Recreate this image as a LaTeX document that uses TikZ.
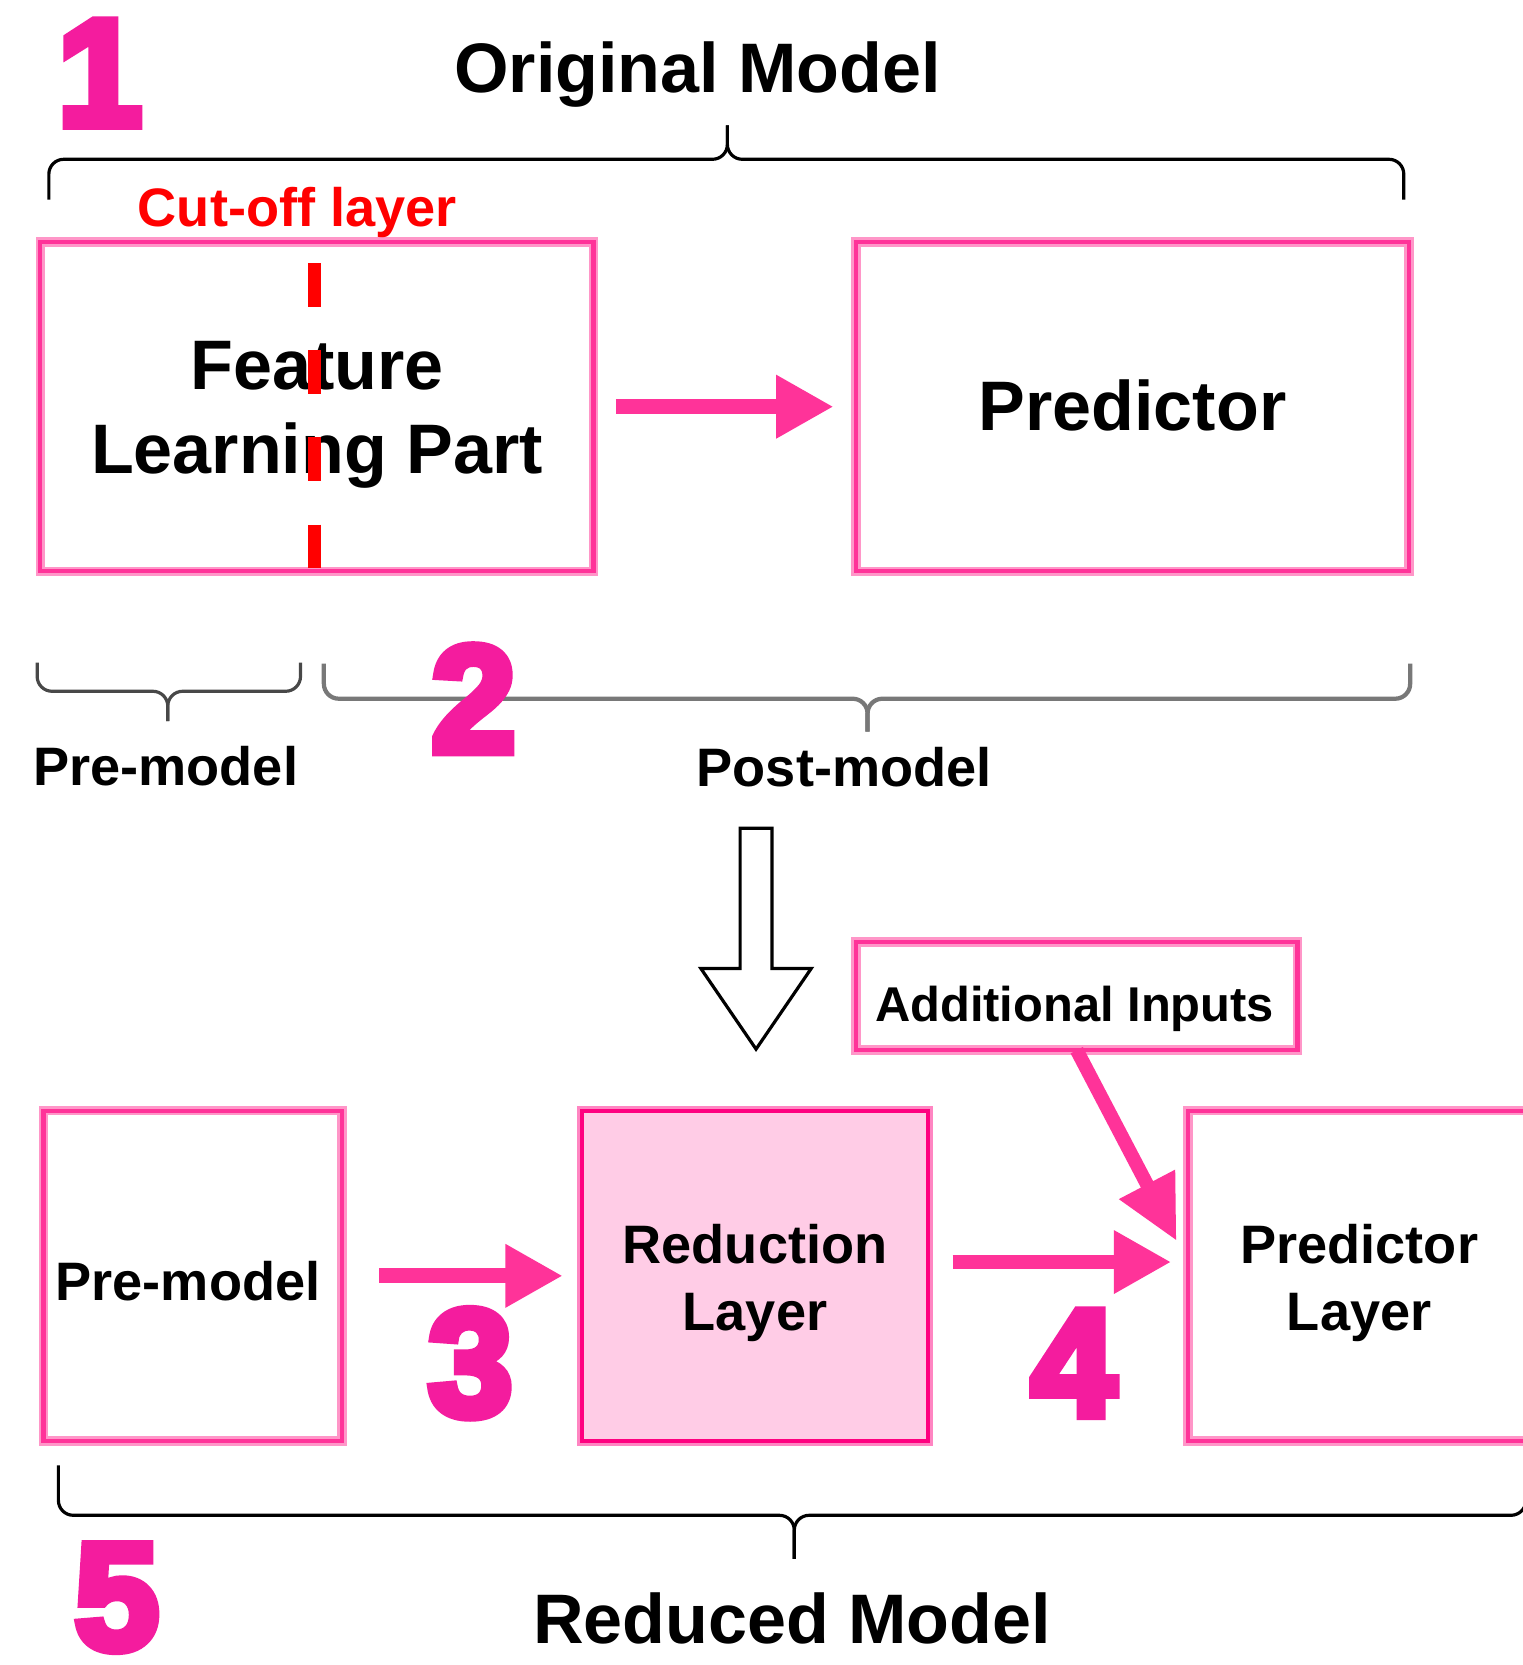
\documentclass[tikz,border=0pt]{standalone}
\usepackage{fontspec}
\setmainfont{Liberation Sans}
\newfontfamily\digitfont{Liberation Sans}[BoldFeatures={FakeBold=6}]
\usetikzlibrary{arrows.meta}
\definecolor{pinkmain}{RGB}{255,51,153}
\definecolor{pinklight}{RGB}{255,150,200}
\definecolor{pinkdeep}{RGB}{255,0,128}
\definecolor{pinkfill}{RGB}{255,204,230}
\definecolor{digitpink}{RGB}{244,28,158}
\definecolor{cutred}{RGB}{255,0,0}
\definecolor{bracegray}{RGB}{120,120,120}
% curly bracket: style, left x, right x, centre x, line y, end y, tip y
\newcommand\curlybrace[7]{%
  \draw[#1] (#2,#6) -- (#2,#5) -- (#4,#5) -- (#4,#7);
  \draw[#1] (#3,#6) -- (#3,#5) -- (#4,#5) -- (#4,#7);}
\begin{document}
\begin{tikzpicture}[x=1pt, y=-1pt,
  box/.style={draw=pinkmain, line width=4pt,
    preaction={draw=pinklight, line width=9pt}, inner sep=0pt, outer sep=0pt},
  fillbox/.style={draw=pinkdeep, fill=pinkfill, line width=4pt,
    preaction={draw=pinkmain!60, line width=9pt}, inner sep=0pt, outer sep=0pt},
  bigtext/.style={font=\bfseries\fontsize{66}{79}\selectfont, align=center, inner sep=0pt},
  midtext/.style={font=\bfseries\fontsize{51}{63}\selectfont, align=center, inner sep=0pt},
  digit/.style={text=digitpink, font=\digitfont\bfseries\fontsize{143}{143}\selectfont,
    inner sep=0pt, anchor=base},
  flow/.style={draw=pinkmain, line width=14pt, -{Triangle[length=54pt, width=56pt]}},
  brace/.style={line width=3pt, rounded corners=14pt},
  hollow/.style={draw=black, fill=white, line width=3pt, line join=miter}
]
\fill[white] (0,0) rectangle (1434,1568);
\useasboundingbox (0,0) rectangle (1434,1568);

% ---- original model ----
\node[digit] (n1) at (94,118) {1};
\node[bigtext, anchor=base] (origtitle) at (657,87) {Original Model};
\curlybrace{brace}{46}{1322}{685}{150}{188}{118}

\node[box, minimum width=521pt, minimum height=310pt] (feat) at (298.5,383) {};
\node[bigtext] (feattext) at (298.5,391) {Feature\\Learning Part};
\node[box, minimum width=521pt, minimum height=310pt] (pred) at (1066.5,383) {};
\node[bigtext, anchor=base] (predtext) at (1066.5,405) {Predictor};

\node[midtext, anchor=base, text=cutred] (cutlabel) at (280,213) {Cut-off layer};
\coordinate (cuttop) at (296.5,248);
\coordinate (cutbot) at (296.5,540);
\draw[cutred, line width=12pt, dash pattern=on 41pt off 41pt] (cuttop) -- (cutbot);

\draw[flow, shorten <=21pt, shorten >=21pt] (feat) -- (pred);

% ---- split into pre- and post-model ----
\curlybrace{brace, draw=bracegray!60!black}{35}{283}{158}{651}{624}{679}
\curlybrace{brace, draw=bracegray, line width=4pt}{305}{1328}{817}{658}{625}{689}
\node[digit] (n2) at (446,708) {2};
\node[midtext, anchor=base] (prelabel) at (156,740) {Pre-model};
\node[midtext, anchor=base] (postlabel) at (795,741) {Post-model};

\draw[hollow] (697,780) -- (727,780) -- (727,912) -- (764,912) -- (712,988)
  -- (660,912) -- (697,912) -- cycle;

% ---- reduced model ----
\node[box, minimum width=416pt, minimum height=102pt] (add) at (1014,938) {};
\node[font=\bfseries\fontsize{46}{55}\selectfont, inner sep=0pt, anchor=base]
  (addtext) at (1012,962) {Additional Inputs};

\node[box, minimum width=281pt, minimum height=311pt] (pre) at (181.5,1201.5) {};
\node[midtext, anchor=base] (pretext) at (177,1225) {Pre-model};
\node[fillbox, minimum width=326pt, minimum height=311pt] (red) at (711,1201.5) {};
\node[midtext] (redtext) at (711,1208.3) {Reduction\\Layer};
\node[box, minimum width=322pt, minimum height=311pt] (plw) at (1280,1201.5) {};
\node[midtext] (plwtext) at (1280,1208.3) {Predictor\\Layer};

\draw[flow, shorten <=35pt, shorten >=18pt] (pre) -- (red);
\draw[flow, shorten <=23pt, shorten >=16pt] ([yshift=13pt]red.east) -- ([yshift=13pt]plw.west);
\draw[flow, line width=13pt, -{Triangle[length=60pt, width=56pt]}]
  (add.south) -- ([xshift=-11pt, yshift=33pt]plw.west);

\node[digit] (n3) at (443,1333) {3};
\node[digit] (n4) at (1011,1333) {4};

\curlybrace{brace}{55}{1437}{748}{1427}{1380}{1468}
\node[digit] (n5) at (110,1553) {5};
\node[bigtext, anchor=base] (redtitle) at (746,1548) {Reduced Model};
\end{tikzpicture}
\end{document}
